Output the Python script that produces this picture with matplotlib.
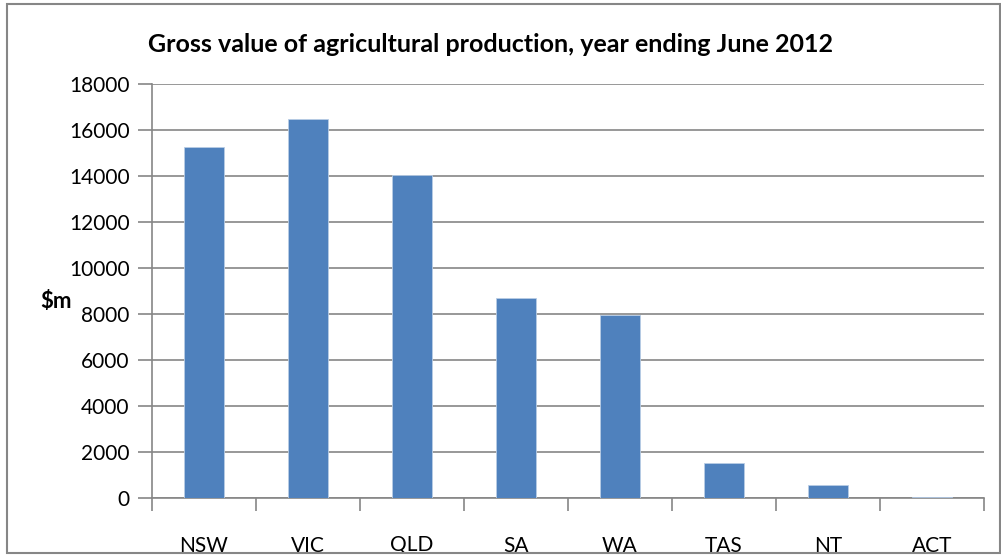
import matplotlib
matplotlib.use("Agg")
import matplotlib.pyplot as plt
from matplotlib.patches import Rectangle

STATES = ["NSW", "VIC", "QLD", "SA", "WA", "TAS", "NT", "ACT"]
VALUES = [15250, 16480, 14040, 8700, 7960, 1510, 560, 30]
YTICKS = list(range(0, 18001, 2000))

BAR = "#4F81BD"
AXIS = "#868686"

plt.rcParams["font.family"] = ["Lato", "DejaVu Sans"]

fig = plt.figure(figsize=(10.01, 5.56), dpi=100)
W, H = 1001, 556
ax = fig.add_axes([152 / W, 1 - 498 / H, (984 - 152) / W, (498 - 84) / H])

x = list(range(len(STATES)))
ax.bar(x, VALUES, width=0.38, color=BAR, edgecolor="#B9CDE5", linewidth=0.6, zorder=3)

ax.set_xlim(-0.5, len(STATES) - 0.5)
ax.set_ylim(0, 18000)
ax.set_yticks(YTICKS)
ax.set_yticklabels([str(v) for v in YTICKS], fontsize=15)
ax.yaxis.grid(True, color=AXIS, lw=1.2, zorder=0)
ax.tick_params(axis="y", length=10, width=1.2, color=AXIS, pad=6)

# category boundaries get the x ticks, labels sit at centres
ax.set_xticks([i - 0.5 for i in range(len(STATES) + 1)])
ax.set_xticklabels([])
ax.set_xticks(x, minor=True)
ax.set_xticklabels(STATES, minor=True, fontsize=15)
ax.tick_params(axis="x", which="major", length=9, width=1.2, color=AXIS)
ax.tick_params(axis="x", which="minor", length=0, pad=27)

for s in ("top", "right"):
    ax.spines[s].set_visible(False)
for s in ("left", "bottom"):
    ax.spines[s].set_color(AXIS)
    ax.spines[s].set_linewidth(1.2)

fig.text(490 / W, 1 - 45 / H, "Gross value of agricultural production, year ending June 2012",
         ha="center", va="center", fontsize=18, fontweight="bold")
fig.text(40 / W, 1 - 302 / H, "$m", ha="left", va="center", fontsize=16, fontweight="bold")

fig.patches.append(Rectangle((7 / W, 1 - 553 / H), (1000 - 7) / W, (553 - 4) / H,
                             transform=fig.transFigure, fill=False, edgecolor=AXIS,
                             lw=1.5, zorder=10))

fig.savefig("out.png", dpi=100)
